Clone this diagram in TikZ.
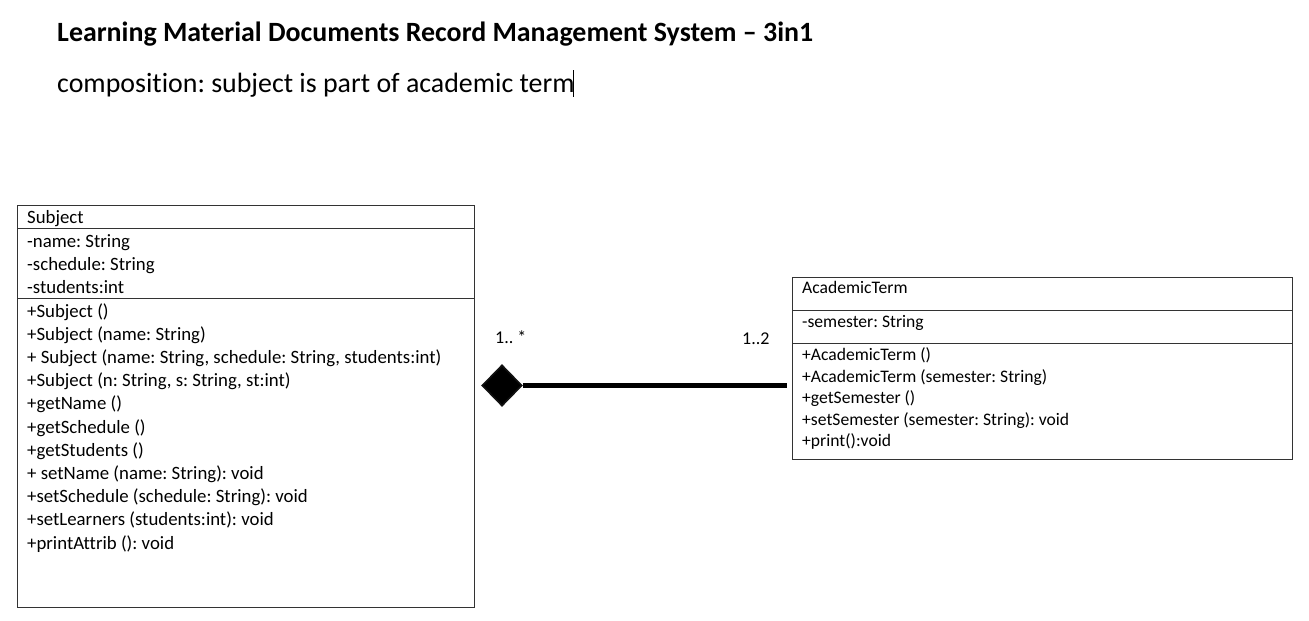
\documentclass[tikz,border=0pt]{standalone}
\usepackage{fontspec}
\setmainfont{Carlito}[Ligatures=NoCommon]
\usetikzlibrary{shapes.geometric}
\frenchspacing
\begin{document}
\begin{tikzpicture}[x=1pt,y=-1pt,
  box/.style={draw=black!80, line width=0.9pt, inner sep=0pt},
  divider/.style={draw=black!80, line width=0.9pt},
  subjline/.style={anchor=base west, inner sep=0pt, font=\fontsize{18.8}{22}\selectfont},
  termline/.style={anchor=base west, inner sep=0pt, font=\fontsize{17.6}{21}\selectfont},
  mult/.style={anchor=base west, inner sep=0pt, font=\fontsize{18}{21}\selectfont},
  compo/.style={diamond, fill=black, draw=black!93, line width=1.6pt, inner sep=0pt, minimum width=40pt, minimum height=41pt},
  assoc/.style={line width=4.8pt, draw=black}
]
\useasboundingbox (0,0) rectangle (1309,621);
\fill[white] (0,0) rectangle (1309,621);

% headings
\node[anchor=base west, inner sep=0pt, font=\fontsize{27.9}{33}\bfseries\selectfont] (title) at (57,41.5) {Learning Material Documents Record Management System – 3in1};
\node[anchor=base west, inner sep=0pt, font=\fontsize{27.9}{33}\selectfont] (subtitle) at (57,92) {composition: subject is part of academic term};
\draw[line width=0.8pt] (573,70) -- (573,97);

% Subject class
\node[box, minimum width=457pt, minimum height=402pt] (subj) at (245.5,406) {};
\draw[divider] (17,228.5) -- (474,228.5);
\draw[divider] (17,298.5) -- (474,298.5);
\node[subjline] (s0) at (27,223) {Subject};
\node[subjline] (s1) at (27,247) {-name: String};
\node[subjline] (s2) at (27,270) {-schedule: String};
\node[subjline] (s3) at (27,293) {-students:int};
\node[subjline] (s4) at (27,317) {+Subject ()};
\node[subjline] (s5) at (27,340) {+Subject (name: String)};
\node[subjline] (s6) at (27,363) {+ Subject (name: String, schedule: String, students:int)};
\node[subjline] (s7) at (27,386) {+Subject (n: String, s: String, st:int)};
\node[subjline] (s8) at (27,409) {+getName ()};
\node[subjline] (s9) at (27,433) {+getSchedule ()};
\node[subjline] (s10) at (27,456) {+getStudents ()};
\node[subjline] (s11) at (27,479) {+ setName (name: String): void};
\node[subjline] (s12) at (27,502) {+setSchedule (schedule: String): void};
\node[subjline] (s13) at (27,525) {+setLearners (students:int): void};
\node[subjline] (s14) at (27,549) {+printAttrib (): void};

% AcademicTerm class
\node[box, minimum width=500pt, minimum height=182pt] (term) at (1042,368) {};
\draw[divider] (792,310.5) -- (1292,310.5);
\draw[divider] (792,343.5) -- (1292,343.5);
\node[termline] (t0) at (802,293.5) {AcademicTerm};
\node[termline] (t1) at (802,327.5) {-semester: String};
\node[termline] (t2) at (802,360.5) {+AcademicTerm ()};
\node[termline] (t3) at (802,382.5) {+AcademicTerm (semester: String)};
\node[termline] (t4) at (802,403.5) {+getSemester ()};
\node[termline] (t5) at (802,425.5) {+setSemester (semester: String): void};
\node[termline] (t6) at (802,446.5) {+print():void};

% composition
\node[compo] (dia) at (502,385.5) {};
\coordinate (lineend) at (787,385.5);
\draw[assoc] (dia.east) -- (lineend);
\node[mult] (m1) at (495,343) {1.. *};
\node[mult] (m2) at (742,344) {1..2};
\end{tikzpicture}
\end{document}
